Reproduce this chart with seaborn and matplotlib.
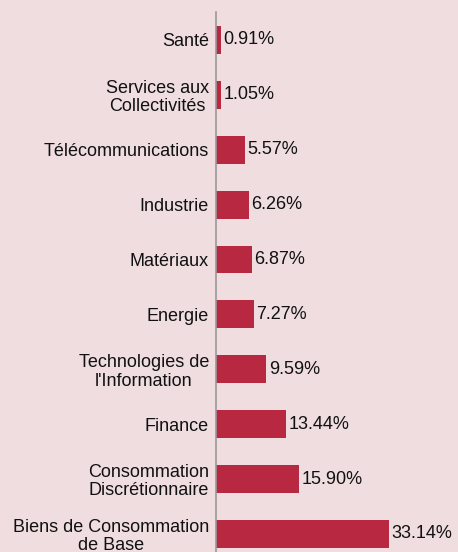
import matplotlib
matplotlib.use("Agg")
import matplotlib.pyplot as plt
import seaborn as sns
import pandas as pd

# -----------------------------
# Data
# -----------------------------
sectors = [
    "Santé",
    "Services aux\nCollectivités",
    "Télécommunications",
    "Industrie",
    "Matériaux",
    "Energie",
    "Technologies de\nl'Information",
    "Finance",
    "Consommation\nDiscrétionnaire",
    "Biens de Consommation\nde Base",
]
weights = [0.91, 1.05, 5.57, 6.26, 6.87, 7.27, 9.59, 13.44, 15.90, 33.14]

df = pd.DataFrame({"Secteur": sectors, "Poids": weights})

bg = "#EFDDDF"
bar_color = "#B82840"
fs = 13

sns.set_style("white")
plt.rcParams["font.family"] = ["Liberation Sans", "DejaVu Sans"]

fig = plt.figure(figsize=(4.58, 5.52), dpi=100, facecolor=bg)
ax = fig.add_axes([216 / 458, 0, 242 / 458, 540 / 552])
ax.set_facecolor(bg)

sns.barplot(data=df, x="Poids", y="Secteur", orient="h", color=bar_color,
            saturation=1, width=0.51, linewidth=0, ax=ax)

ax.set_xlim(0, 242 / 5.22)
ax.set_ylim(9.33, -0.51)

for i, v in enumerate(weights):
    ax.text(v + 0.5, i, f"{v:.2f}%", va="center", ha="left", fontsize=fs,
            color="#111111")

ax.set_xlabel("")
ax.set_ylabel("")
ax.set_xticks([])
ax.tick_params(axis="y", length=0, pad=5, labelsize=fs, labelcolor="#111111")
for lbl in ax.get_yticklabels():
    lbl.set_multialignment("center")
    lbl.set_linespacing(1.1)

for side in ["top", "right", "bottom"]:
    ax.spines[side].set_visible(False)
ax.spines["left"].set_color("#999999")
ax.spines["left"].set_linewidth(1.2)

fig.savefig("out.png", dpi=100, facecolor=bg)
